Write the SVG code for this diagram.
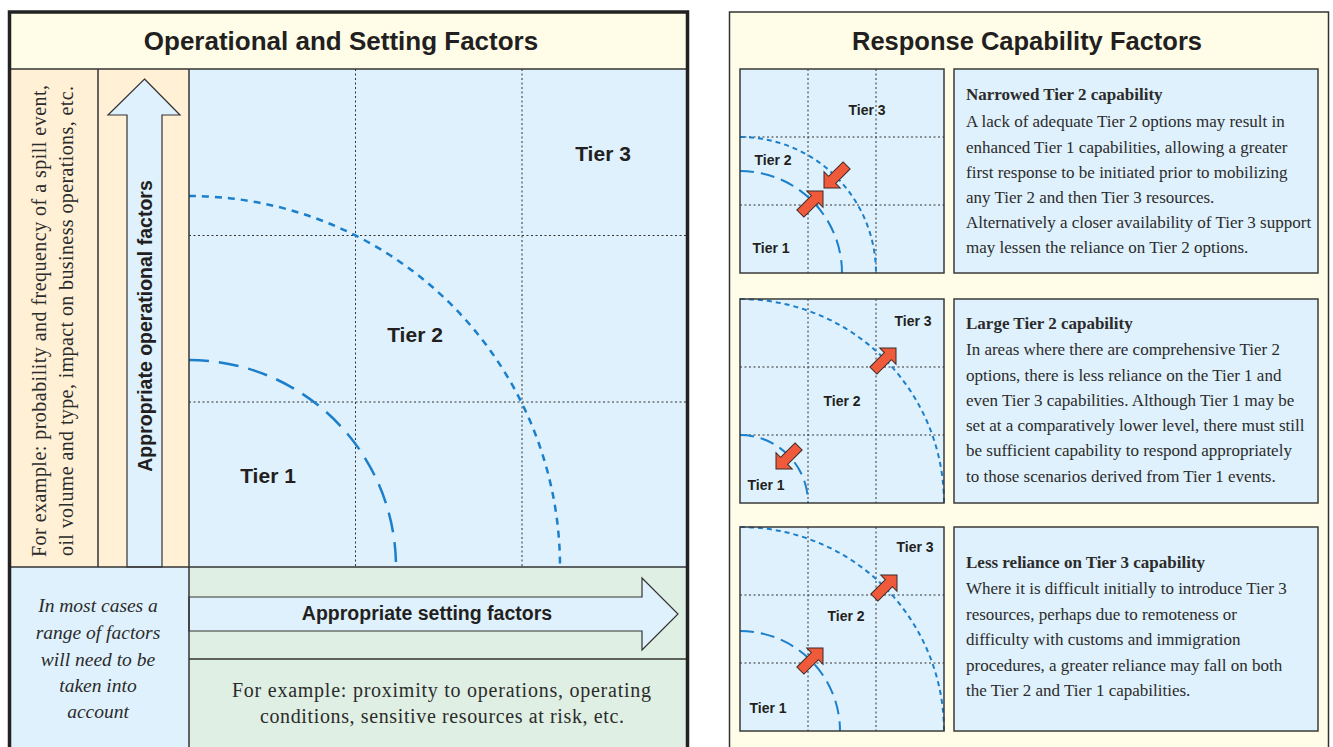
<svg xmlns="http://www.w3.org/2000/svg" width="1333" height="747" viewBox="0 0 1333 747">
<style>
.sans{font-family:"Liberation Sans",Arial,sans-serif;font-weight:bold;fill:#231f20}
.serif{font-family:"Liberation Serif","Times New Roman",serif;fill:#2b2b2b}
.grid{stroke:#333;stroke-width:1;stroke-dasharray:2 2.5;fill:none}
.sep{stroke:#333;stroke-width:1.5;fill:none}
.blue{fill:#dff1fc}
.arcL{stroke:#1b7fcb;stroke-width:2.5;fill:none;stroke-dasharray:20 10}
.arcS{stroke:#1b7fcb;stroke-width:2.5;fill:none;stroke-dasharray:7 6}
.parcL{stroke:#1b7fcb;stroke-width:2;fill:none;stroke-dasharray:14 7}
.parcS{stroke:#1b7fcb;stroke-width:2;fill:none;stroke-dasharray:5 4}
.box{fill:#dff1fc;stroke:#3a3a3a;stroke-width:1.5}
.tier{font-size:21px;text-anchor:middle}
.ptier{font-size:14px;text-anchor:middle}
.body{font-size:17px}
.bt{font-size:17px;font-weight:bold}
</style>
<defs>
<path id="redArrow" d="M0,0 L-11.5,-11.5 L-11.5,-5 L-32,-5 L-32,5 L-11.5,5 L-11.5,11.5 Z" fill="#ef5a3a" stroke="#3a2a2a" stroke-width="1"/>
</defs>
<rect width="1333" height="747" fill="#ffffff"/>

<!-- LEFT PANEL -->
<g id="left-panel">
<rect x="10" y="13" width="677" height="56" fill="#fffde8"/>
<rect x="10" y="69" width="179" height="498" fill="#fff0d6"/>
<rect x="189" y="69" width="498" height="498" class="blue"/>
<rect x="10" y="567" width="179" height="185" class="blue"/>
<rect x="189" y="567" width="498" height="185" fill="#dfefe3"/>
<text x="341" y="50" class="sans" font-size="26" text-anchor="middle">Operational and Setting Factors</text>
</g>

<g id="main-grid">
<clipPath id="mainClip"><rect x="189" y="69" width="498" height="498"/></clipPath>
<line x1="355.5" y1="69" x2="355.5" y2="567" class="grid"/>
<line x1="522" y1="69" x2="522" y2="567" class="grid"/>
<line x1="189" y1="235.5" x2="687" y2="235.5" class="grid"/>
<line x1="189" y1="402" x2="687" y2="402" class="grid"/>
<g clip-path="url(#mainClip)">
<path d="M189,360 A207,207 0 0 1 396,567" class="arcL"/>
<path d="M189,196 A371,371 0 0 1 560,567" class="arcS"/>
</g>
<text x="603" y="161" class="sans tier">Tier 3</text>
<text x="415" y="342" class="sans tier">Tier 2</text>
<text x="268" y="483" class="sans tier">Tier 1</text>
</g>

<g id="operational-note">
<text transform="translate(46,321) rotate(-90)" class="serif" font-size="20" text-anchor="middle" textLength="472">For example: probability and frequency of a spill event,</text>
<text transform="translate(73,321) rotate(-90)" class="serif" font-size="20" text-anchor="middle" textLength="470">oil volume and type, impact on business operations, etc.</text>
</g>

<g id="operational-arrow">
<path d="M144.5,79 L180,115 L162,115 L162,567 L127,567 L127,115 L108,115 Z" fill="#dff1fc" stroke="#333" stroke-width="1.2"/>
<text transform="translate(152,326) rotate(-90)" class="sans" font-size="19.5" text-anchor="middle">Appropriate operational factors</text>
</g>

<g id="setting-arrow">
<path d="M189,597 L642,597 L642,578 L678,614 L642,650 L642,631 L189,631 Z" fill="#dff1fc" stroke="#333" stroke-width="1.2"/>
<text x="427" y="620" class="sans" font-size="19.5" text-anchor="middle">Appropriate setting factors</text>
</g>

<g id="setting-note">
<text x="441.5" y="697" class="serif" font-size="20" text-anchor="middle" textLength="419">For example: proximity to operations, operating</text>
<text x="442" y="723" class="serif" font-size="20" text-anchor="middle" textLength="364">conditions, sensitive resources at risk, etc.</text>
</g>

<g id="range-note" class="serif" font-size="19.5" font-style="italic" text-anchor="middle">
<text x="98" y="612">In most cases a</text>
<text x="98" y="639">range of factors</text>
<text x="98" y="666">will need to be</text>
<text x="98" y="692">taken into</text>
<text x="98" y="718">account</text>
</g>

<g id="left-lines">
<line x1="10" y1="69" x2="687" y2="69" class="sep"/>
<line x1="98" y1="69" x2="98" y2="567" class="sep"/>
<line x1="189" y1="69" x2="189" y2="752" class="sep"/>
<line x1="10" y1="567" x2="687" y2="567" class="sep"/>
<line x1="189" y1="659" x2="687" y2="659" class="sep"/>
<rect x="9.5" y="12" width="678" height="750" fill="none" stroke="#222" stroke-width="3.5"/>
</g>

<!-- RIGHT PANEL -->
<g id="right-panel">
<rect x="729.5" y="12" width="599" height="745" fill="#fffde8" stroke="#333" stroke-width="1.5"/>
<text x="1027" y="50" class="sans" font-size="25.5" text-anchor="middle">Response Capability Factors</text>
</g>

<g id="panel1">
<rect x="740" y="69" width="204" height="204" class="blue"/>
<line x1="808" y1="69" x2="808" y2="273" class="grid"/>
<line x1="876" y1="69" x2="876" y2="273" class="grid"/>
<line x1="740" y1="137" x2="944" y2="137" class="grid"/>
<line x1="740" y1="205" x2="944" y2="205" class="grid"/>
<path d="M740,171 A102,102 0 0 1 842,273" class="parcL"/>
<path d="M740,137 A136,136 0 0 1 876,273" class="parcS"/>
<text x="867" y="115" class="sans ptier">Tier 3</text>
<text x="773" y="165" class="sans ptier">Tier 2</text>
<text x="771" y="253" class="sans ptier">Tier 1</text>
<use href="#redArrow" transform="translate(824,188) rotate(135)"/>
<use href="#redArrow" transform="translate(823,191) rotate(-45)"/>
<rect x="740" y="69" width="204" height="204" fill="none" stroke="#3a3a3a" stroke-width="1.5"/>
</g>

<g id="panel1-text">
<rect x="954" y="69" width="364" height="204" class="box"/>
<text x="966" y="100" class="serif bt">Narrowed Tier 2 capability</text>
<text x="966" y="127" class="serif body">A lack of adequate Tier 2 options may result in</text>
<text x="966" y="152.5" class="serif body">enhanced Tier 1 capabilities, allowing a greater</text>
<text x="966" y="177.5" class="serif body">first response to be initiated prior to mobilizing</text>
<text x="966" y="202.5" class="serif body">any Tier 2 and then Tier 3 resources.</text>
<text x="966" y="228" class="serif body">Alternatively a closer availability of Tier 3 support</text>
<text x="966" y="253" class="serif body">may lessen the reliance on Tier 2 options.</text>
</g>

<g id="panel2">
<rect x="740" y="299" width="204" height="204" class="blue"/>
<line x1="808" y1="299" x2="808" y2="503" class="grid"/>
<line x1="876" y1="299" x2="876" y2="503" class="grid"/>
<line x1="740" y1="367" x2="944" y2="367" class="grid"/>
<line x1="740" y1="435" x2="944" y2="435" class="grid"/>
<path d="M740,435 A68,68 0 0 1 808,503" class="parcL"/>
<path d="M740,299 A204,204 0 0 1 944,503" class="parcS"/>
<text x="913" y="326" class="sans ptier">Tier 3</text>
<text x="842" y="406" class="sans ptier">Tier 2</text>
<text x="766" y="490" class="sans ptier">Tier 1</text>
<use href="#redArrow" transform="translate(896,348) rotate(-45)"/>
<use href="#redArrow" transform="translate(776,469) rotate(135)"/>
<rect x="740" y="299" width="204" height="204" fill="none" stroke="#3a3a3a" stroke-width="1.5"/>
</g>

<g id="panel2-text">
<rect x="954" y="299" width="364" height="204" class="box"/>
<text x="966" y="329" class="serif bt">Large Tier 2 capability</text>
<text x="966" y="355" class="serif body">In areas where there are comprehensive Tier 2</text>
<text x="966" y="380.5" class="serif body">options, there is less reliance on the Tier 1 and</text>
<text x="966" y="406" class="serif body">even Tier 3 capabilities. Although Tier 1 may be</text>
<text x="966" y="431" class="serif body">set at a comparatively lower level, there must still</text>
<text x="966" y="456" class="serif body">be sufficient capability to respond appropriately</text>
<text x="966" y="481.5" class="serif body">to those scenarios derived from Tier 1 events.</text>
</g>

<g id="panel3">
<rect x="740" y="527" width="204" height="204" class="blue"/>
<line x1="808" y1="527" x2="808" y2="731" class="grid"/>
<line x1="876" y1="527" x2="876" y2="731" class="grid"/>
<line x1="740" y1="595" x2="944" y2="595" class="grid"/>
<line x1="740" y1="663" x2="944" y2="663" class="grid"/>
<path d="M740,631 A100,100 0 0 1 840,731" class="parcL"/>
<path d="M740,527 A204,204 0 0 1 944,731" class="parcS"/>
<text x="915" y="552" class="sans ptier">Tier 3</text>
<text x="846" y="621" class="sans ptier">Tier 2</text>
<text x="768" y="713" class="sans ptier">Tier 1</text>
<use href="#redArrow" transform="translate(897,575) rotate(-45)"/>
<use href="#redArrow" transform="translate(823,648) rotate(-45)"/>
<rect x="740" y="527" width="204" height="204" fill="none" stroke="#3a3a3a" stroke-width="1.5"/>
</g>

<g id="panel3-text">
<rect x="954" y="527" width="364" height="204" class="box"/>
<text x="966" y="568" class="serif bt">Less reliance on Tier 3 capability</text>
<text x="966" y="594" class="serif body">Where it is difficult initially to introduce Tier 3</text>
<text x="966" y="619.5" class="serif body">resources, perhaps due to remoteness or</text>
<text x="966" y="645" class="serif body">difficulty with customs and immigration</text>
<text x="966" y="670.5" class="serif body">procedures, a greater reliance may fall on both</text>
<text x="966" y="696" class="serif body">the Tier 2 and Tier 1 capabilities.</text>
</g>

<g id="connectors"></g>
</svg>
